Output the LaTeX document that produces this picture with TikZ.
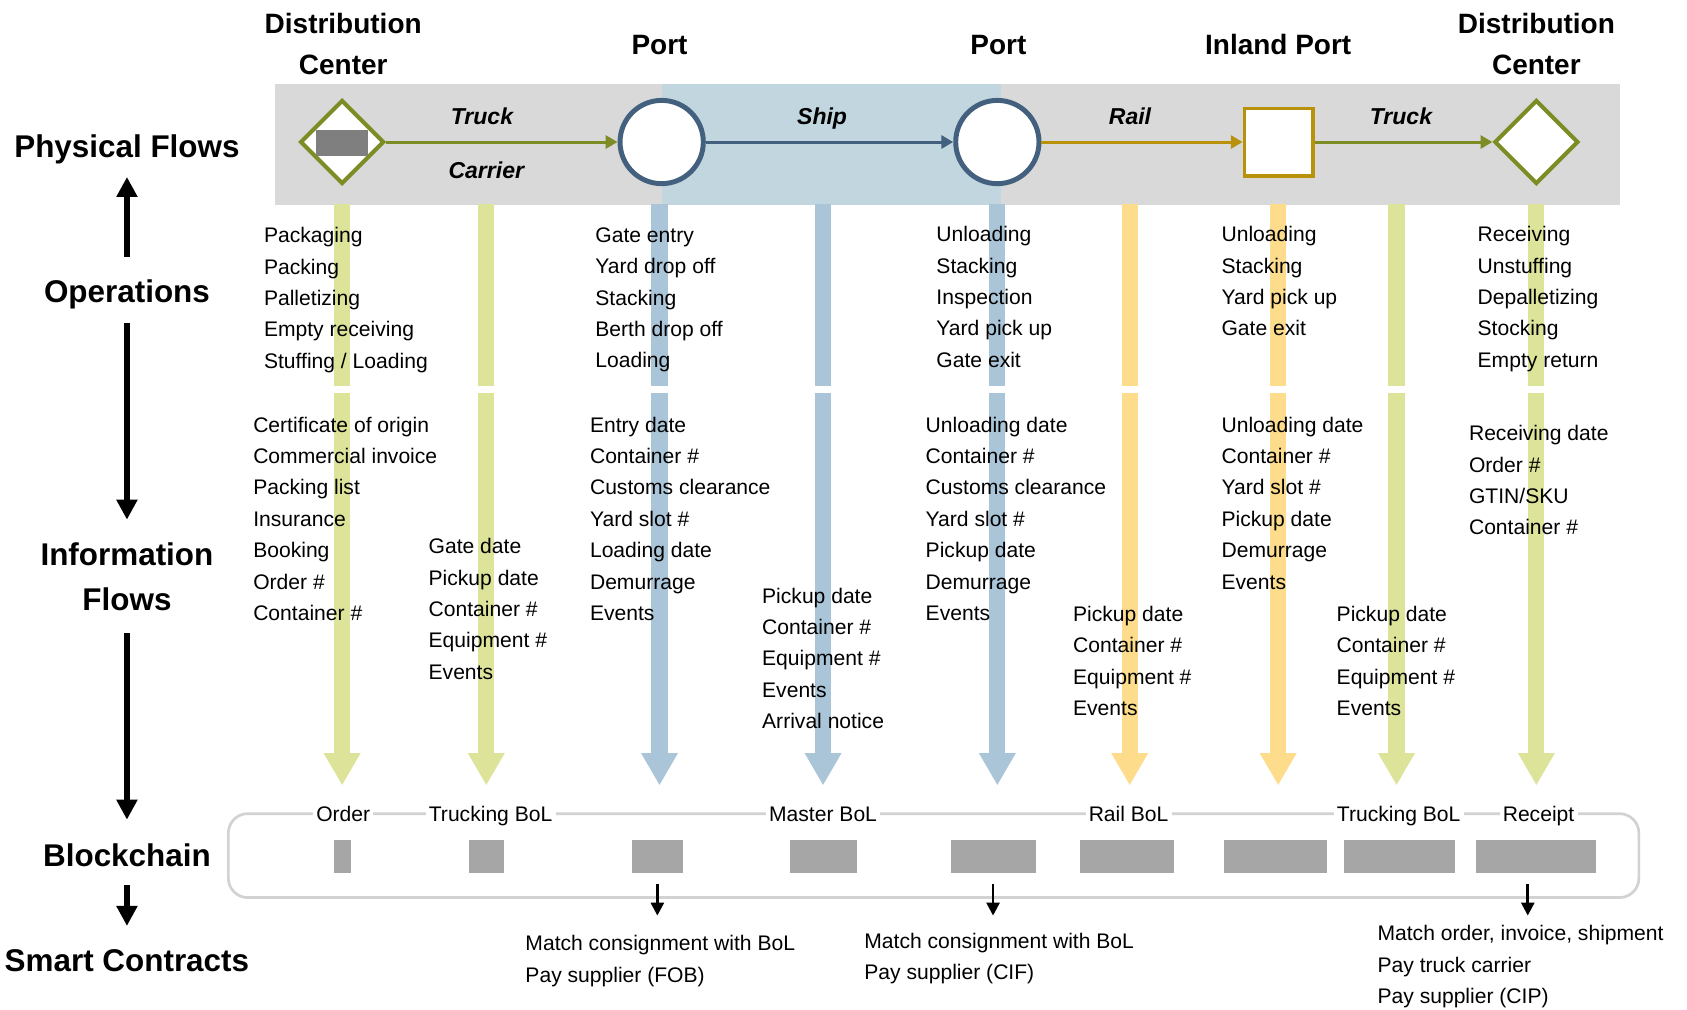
\documentclass[tikz,border=0pt]{standalone}
\usepackage{fontspec}
\setmainfont{Liberation Sans}
\usetikzlibrary{arrows.meta,shapes.geometric}
\definecolor{olivec}{RGB}{126,140,37}
\definecolor{navyc}{RGB}{67,97,126}
\definecolor{goldc}{RGB}{184,146,11}
\definecolor{bandgray}{RGB}{217,217,217}
\definecolor{bandblue}{RGB}{193,214,222}
\definecolor{bargreen}{RGB}{221,228,153}
\definecolor{barblue}{RGB}{171,197,216}
\definecolor{baryellow}{RGB}{253,221,140}
\definecolor{blockgray}{RGB}{166,166,166}
\definecolor{chainborder}{RGB}{210,210,210}
\definecolor{innergray}{RGB}{127,127,127}
\tikzset{
  head/.style={font=\fontsize{14.6}{21}\selectfont\bfseries, inner sep=0pt, align=center},
  toplab/.style={font=\fontsize{13}{19}\selectfont\bfseries, inner sep=0pt, align=center},
  lab/.style={font=\fontsize{10.7}{13}\selectfont\bfseries\itshape, inner sep=0pt, anchor=base},
  txt/.style={font=\fontsize{9.8}{14.6}\selectfont, inner sep=0pt, align=left, anchor=north west},
  chainlab/.style={font=\fontsize{9.8}{14.6}\selectfont, fill=white, inner xsep=1.5pt, inner ysep=1pt, anchor=base},
  flow/.style={line width=1.4pt, -{Triangle[length=5.5pt,width=6pt]}},
  bigarrow/.style={line width=3pt, -{Triangle[length=9.3pt,width=9.3pt]}},
  smallarrow/.style={line width=1.25pt, -{Triangle[length=6pt,width=6pt]}},
  vbar/.style={line width=7.5pt},
  dcnode/.style={diamond, aspect=1, draw=olivec, line width=1.85pt, fill=white, minimum size=39pt, inner sep=0pt},
  portnode/.style={circle, draw=navyc, line width=2.3pt, fill=white, minimum size=38.7pt, inner sep=0pt},
}
\begin{document}
\begin{tikzpicture}[x=0.5pt,y=-0.5pt]
\useasboundingbox (0,0) rectangle (1568,938);
\fill[white] (0,0) rectangle (1568,938);

% bands
\node[fill=bandgray, minimum width=625pt, minimum height=56pt, inner sep=0pt, anchor=north west] (band) at (255,78) {};
\node[fill=bandblue, minimum width=157.5pt, minimum height=56pt, inner sep=0pt, anchor=north west] (seaband) at (615,78) {};

% vertical bars
\foreach \x/\c in {318/bargreen, 452/bargreen, 613/barblue, 765/barblue, 927/barblue, 1050/baryellow, 1188/baryellow, 1298/bargreen, 1428/bargreen} {
  \draw[vbar, draw=\c] (\x,190) -- (\x,359);
  \draw[vbar, draw=\c, -{Triangle[length=15pt,width=16pt]}] (\x,365) -- (\x,730);
}

% physical flow nodes
\node[dcnode] (dc1) at (318,132) {};
\node[fill=innergray, minimum width=24pt, minimum height=12pt, inner sep=0pt] (goods) at (318,133) {};
\node[portnode] (port1) at (615,132) {};
\node[portnode] (port2) at (927,132) {};
\node[rectangle, draw=goldc, line width=1.75pt, fill=white, minimum width=31.75pt, minimum height=31.25pt, inner sep=0pt] (inland) at (1188.5,132) {};
\node[dcnode] (dc2) at (1428,132) {};

\draw[flow, draw=olivec] (dc1) -- node[lab, pos=.414, yshift=8pt] {Truck} node[lab, pos=.433, yshift=-17pt] {Carrier} (port1);
\draw[flow, draw=navyc] (port1) -- node[lab, pos=.47, yshift=8pt] {Ship} (port2);
\draw[flow, draw=goldc] (port2) -- node[lab, pos=.44, yshift=8pt] {Rail} (inland);
\draw[flow, draw=olivec] (inland) -- node[lab, pos=.485, yshift=8pt] {Truck} (dc2);

% top labels
\node[toplab, anchor=north] (tdc1) at (319,12) {Distribution\\Center};
\node[toplab, anchor=base] (tport1) at (613,51) {Port};
\node[toplab, anchor=base] (tport2) at (928,51) {Port};
\node[toplab, anchor=base] (tinland) at (1188,51) {Inland Port};
\node[toplab, anchor=north] (tdc2) at (1428,12) {Distribution\\Center};

% left headings
\node[head, anchor=base] (phys) at (118,146) {Physical Flows};
\node[head, anchor=base] (ops) at (118,281) {Operations};
\node[head, anchor=north] (info) at (118,504) {Information\\Flows};
\node[head, anchor=base] (chain) at (118,805) {Blockchain};
\node[head, anchor=base] (smart) at (118,903) {Smart Contracts};

\draw[bigarrow, shorten <=10.5pt, shorten >=6pt] (ops.north) -- (phys.south);
\draw[bigarrow, shorten <=6.5pt, shorten >=10.5pt] (ops.south) -- (info.north);
\draw[bigarrow, shorten <=10pt, shorten >=10.8pt] (info.south) -- (chain.north);
\draw[bigarrow, shorten <=8.5pt, shorten >=10.8pt] (chain.south) -- (smart.north);

% operations
\node[txt] (ops1) at (245,211) {Packaging\\Packing\\Palletizing\\Empty receiving\\Stuffing / Loading};
\node[txt] (ops2) at (553,211) {Gate entry\\Yard drop off\\Stacking\\Berth drop off\\Loading};
\node[txt] (ops3) at (870,210) {Unloading\\Stacking\\Inspection\\Yard pick up\\Gate exit};
\node[txt] (ops4) at (1135,210) {Unloading\\Stacking\\Yard pick up\\Gate exit};
\node[txt] (ops5) at (1373,210) {Receiving\\Unstuffing\\Depalletizing\\Stocking\\Empty return};

% information
\node[txt] (info1) at (235,387) {Certificate of origin\\Commercial invoice\\Packing list\\Insurance\\Booking\\Order \#\\Container \#};
\node[txt] (info2) at (398,500) {Gate date\\Pickup date\\Container \#\\Equipment \#\\Events};
\node[txt] (info3) at (548,387) {Entry date\\Container \#\\Customs clearance\\Yard slot \#\\Loading date\\Demurrage\\Events};
\node[txt] (info4) at (708,546) {Pickup date\\Container \#\\Equipment \#\\Events\\Arrival notice};
\node[txt] (info5) at (860,387) {Unloading date\\Container \#\\Customs clearance\\Yard slot \#\\Pickup date\\Demurrage\\Events};
\node[txt] (info6) at (997,563) {Pickup date\\Container \#\\Equipment \#\\Events};
\node[txt] (info7) at (1135,387) {Unloading date\\Container \#\\Yard slot \#\\Pickup date\\Demurrage\\Events};
\node[txt] (info8) at (1242,563) {Pickup date\\Container \#\\Equipment \#\\Events};
\node[txt] (info9) at (1365,395) {Receiving date\\Order \#\\GTIN/SKU\\Container \#};

% blockchain
\node[draw=chainborder, line width=1.25pt, rounded corners=9pt, minimum width=655.5pt, minimum height=39pt, inner sep=0pt, anchor=north west] (chainbox) at (211,755) {};
\node[chainlab] (lorder) at (319,764) {Order};
\node[chainlab] (ltruck1) at (456,764) {Trucking BoL};
\node[chainlab] (lmaster) at (765,764) {Master BoL};
\node[chainlab] (lrail) at (1049,764) {Rail BoL};
\node[chainlab] (ltruck2) at (1300,764) {Trucking BoL};
\node[chainlab] (lreceipt) at (1430,764) {Receipt};
\foreach \a/\b in {310/326, 436/468, 587/635, 734/797, 884/963, 1004/1091, 1138/1233, 1249/1352, 1372/1483} {
  \fill[blockgray] (\a,781) rectangle (\b,811);
}

% smart contracts
\coordinate (s1a) at (611,822); \coordinate (s1b) at (611,851);
\coordinate (s2a) at (923,822); \coordinate (s2b) at (923,851);
\coordinate (s3a) at (1420,822); \coordinate (s3b) at (1420,851);
\draw[smallarrow] (s1a) -- (s1b);
\draw[smallarrow] (s2a) -- (s2b);
\draw[smallarrow] (s3a) -- (s3b);
\node[txt] (sc1) at (488,869) {Match consignment with BoL\\Pay supplier (FOB)};
\node[txt] (sc2) at (803,867) {Match consignment with BoL\\Pay supplier (CIF)};
\node[txt] (sc3) at (1280,860) {Match order, invoice, shipment\\Pay truck carrier\\Pay supplier (CIP)};
\end{tikzpicture}
\end{document}
